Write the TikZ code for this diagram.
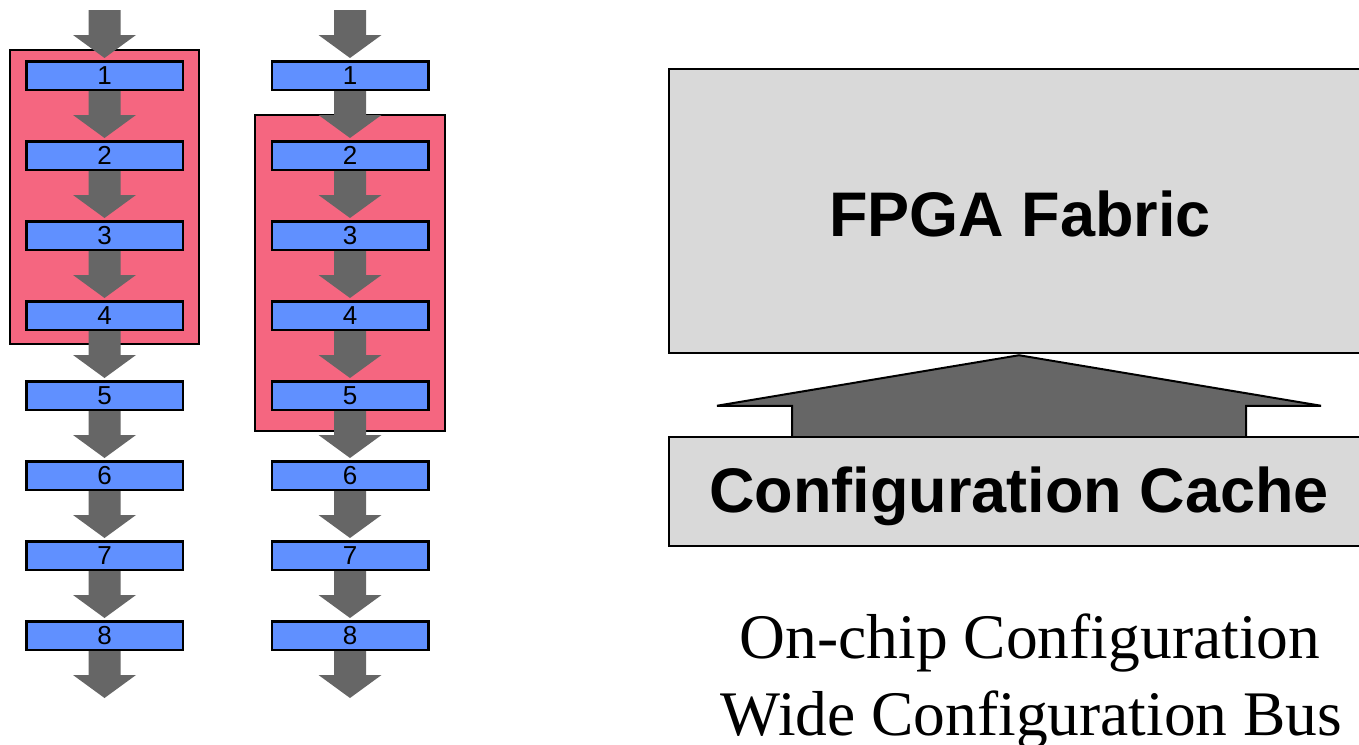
\documentclass[tikz,border=0pt]{standalone}
\usepackage{fontspec}
\setmainfont{Liberation Serif}
\newfontfamily\arialfont{Liberation Sans}
\usetikzlibrary{calc}

\definecolor{stageblue}{RGB}{96,144,255}
\definecolor{grouppink}{RGB}{245,102,128}
\definecolor{panelgray}{RGB}{217,217,217}
\definecolor{flowgray}{RGB}{102,102,102}

\pgfdeclarelayer{back}
\pgfdeclarelayer{flow}
\pgfsetlayers{back,flow,main}

% block arrow pointing down, from the bottom of #1 to just above #2
\newcommand\flowarrow[2]{%
  \fill[flowgray] ($(#1)+(-16,0)$) -- ($(#2)+(-16,-25)$) -- ($(#2)+(-31.5,-25)$)
    -- ($(#2)+(0,-2)$) -- ($(#2)+(31.5,-25)$) -- ($(#2)+(16,-25)$)
    -- ($(#1)+(16,0)$) -- cycle;}

\begin{document}
\begin{tikzpicture}[x=1pt,y=-1pt,
  stage/.style={draw=black, line width=2.5pt, fill=stageblue, minimum width=156.5pt,
    minimum height=28.5pt, inner sep=0pt, font=\arialfont\fontsize{26pt}{30pt}\selectfont},
  grp/.style={draw=black, line width=2.5pt, fill=grouppink, inner sep=0pt},
  panel/.style={draw=black, line width=2.5pt, fill=panelgray, inner sep=0pt, minimum width=700pt},
  bigtxt/.style={font=\arialfont\bfseries\fontsize{63pt}{70pt}\selectfont, inner sep=0pt},
  captxt/.style={font=\fontsize{63.5pt}{70pt}\selectfont, inner sep=0pt}]
\useasboundingbox (0,0) rectangle (1359,744);
\clip (0,0) rectangle (1359,744);

% groups of stages held in the fabric
\begin{pgfonlayer}{back}
  \node[grp, minimum width=189pt, minimum height=294pt] (grpA) at (104.5,197) {};
  \node[grp, minimum width=190pt, minimum height=316pt] (grpB) at (350,273) {};
\end{pgfonlayer}

% two columns of eight stages
\foreach \k in {1,...,8}{
  \node[stage] (L\k) at (104.5,{75.5+80*(\k-1)}) {\k};
  \node[stage] (R\k) at (350,{75.5+80*(\k-1)}) {\k};
}
\coordinate (inL) at (104.5,10);
\coordinate (inR) at (350,10);
\coordinate (outL) at (104.5,700);
\coordinate (outR) at (350,700);

\begin{pgfonlayer}{flow}
  \flowarrow{inL}{L1.north}
  \flowarrow{inR}{R1.north}
  \foreach \a/\b in {1/2,2/3,3/4,4/5,5/6,6/7,7/8}{
    \flowarrow{L\a.south}{L\b.north}
    \flowarrow{R\a.south}{R\b.north}
  }
  \flowarrow{L8.south}{outL}
  \flowarrow{R8.south}{outR}
\end{pgfonlayer}

% on-chip configuration: cache feeding the fabric over a wide bus
\node[panel, minimum height=284pt] (fabric) at (1019,211) {};
\node[panel, minimum height=109pt] (cache) at (1019,491.5) {};
\node[bigtxt, anchor=base] (fabriclbl) at (1020,236) {FPGA Fabric};
\node[bigtxt, anchor=base] (cachelbl) at (1019,512) {Configuration Cache};

\filldraw[fill=flowgray, draw=black, line width=2pt]
  ($(cache.north)+(-227,0)$) -- ($(cache.north)+(-227,-30)$)
  -- ($(cache.north)+(-302,-30)$) -- ($(fabric.south)+(0,1)$)
  -- ($(cache.north)+(302,-30)$) -- ($(cache.north)+(227,-30)$)
  -- ($(cache.north)+(227,0)$);

\node[captxt, anchor=base] (line1) at (1030,658) {On-chip Configuration};
\node[captxt, anchor=base] (line2) at (1031.5,735) {Wide Configuration Bus};
\end{tikzpicture}
\end{document}
